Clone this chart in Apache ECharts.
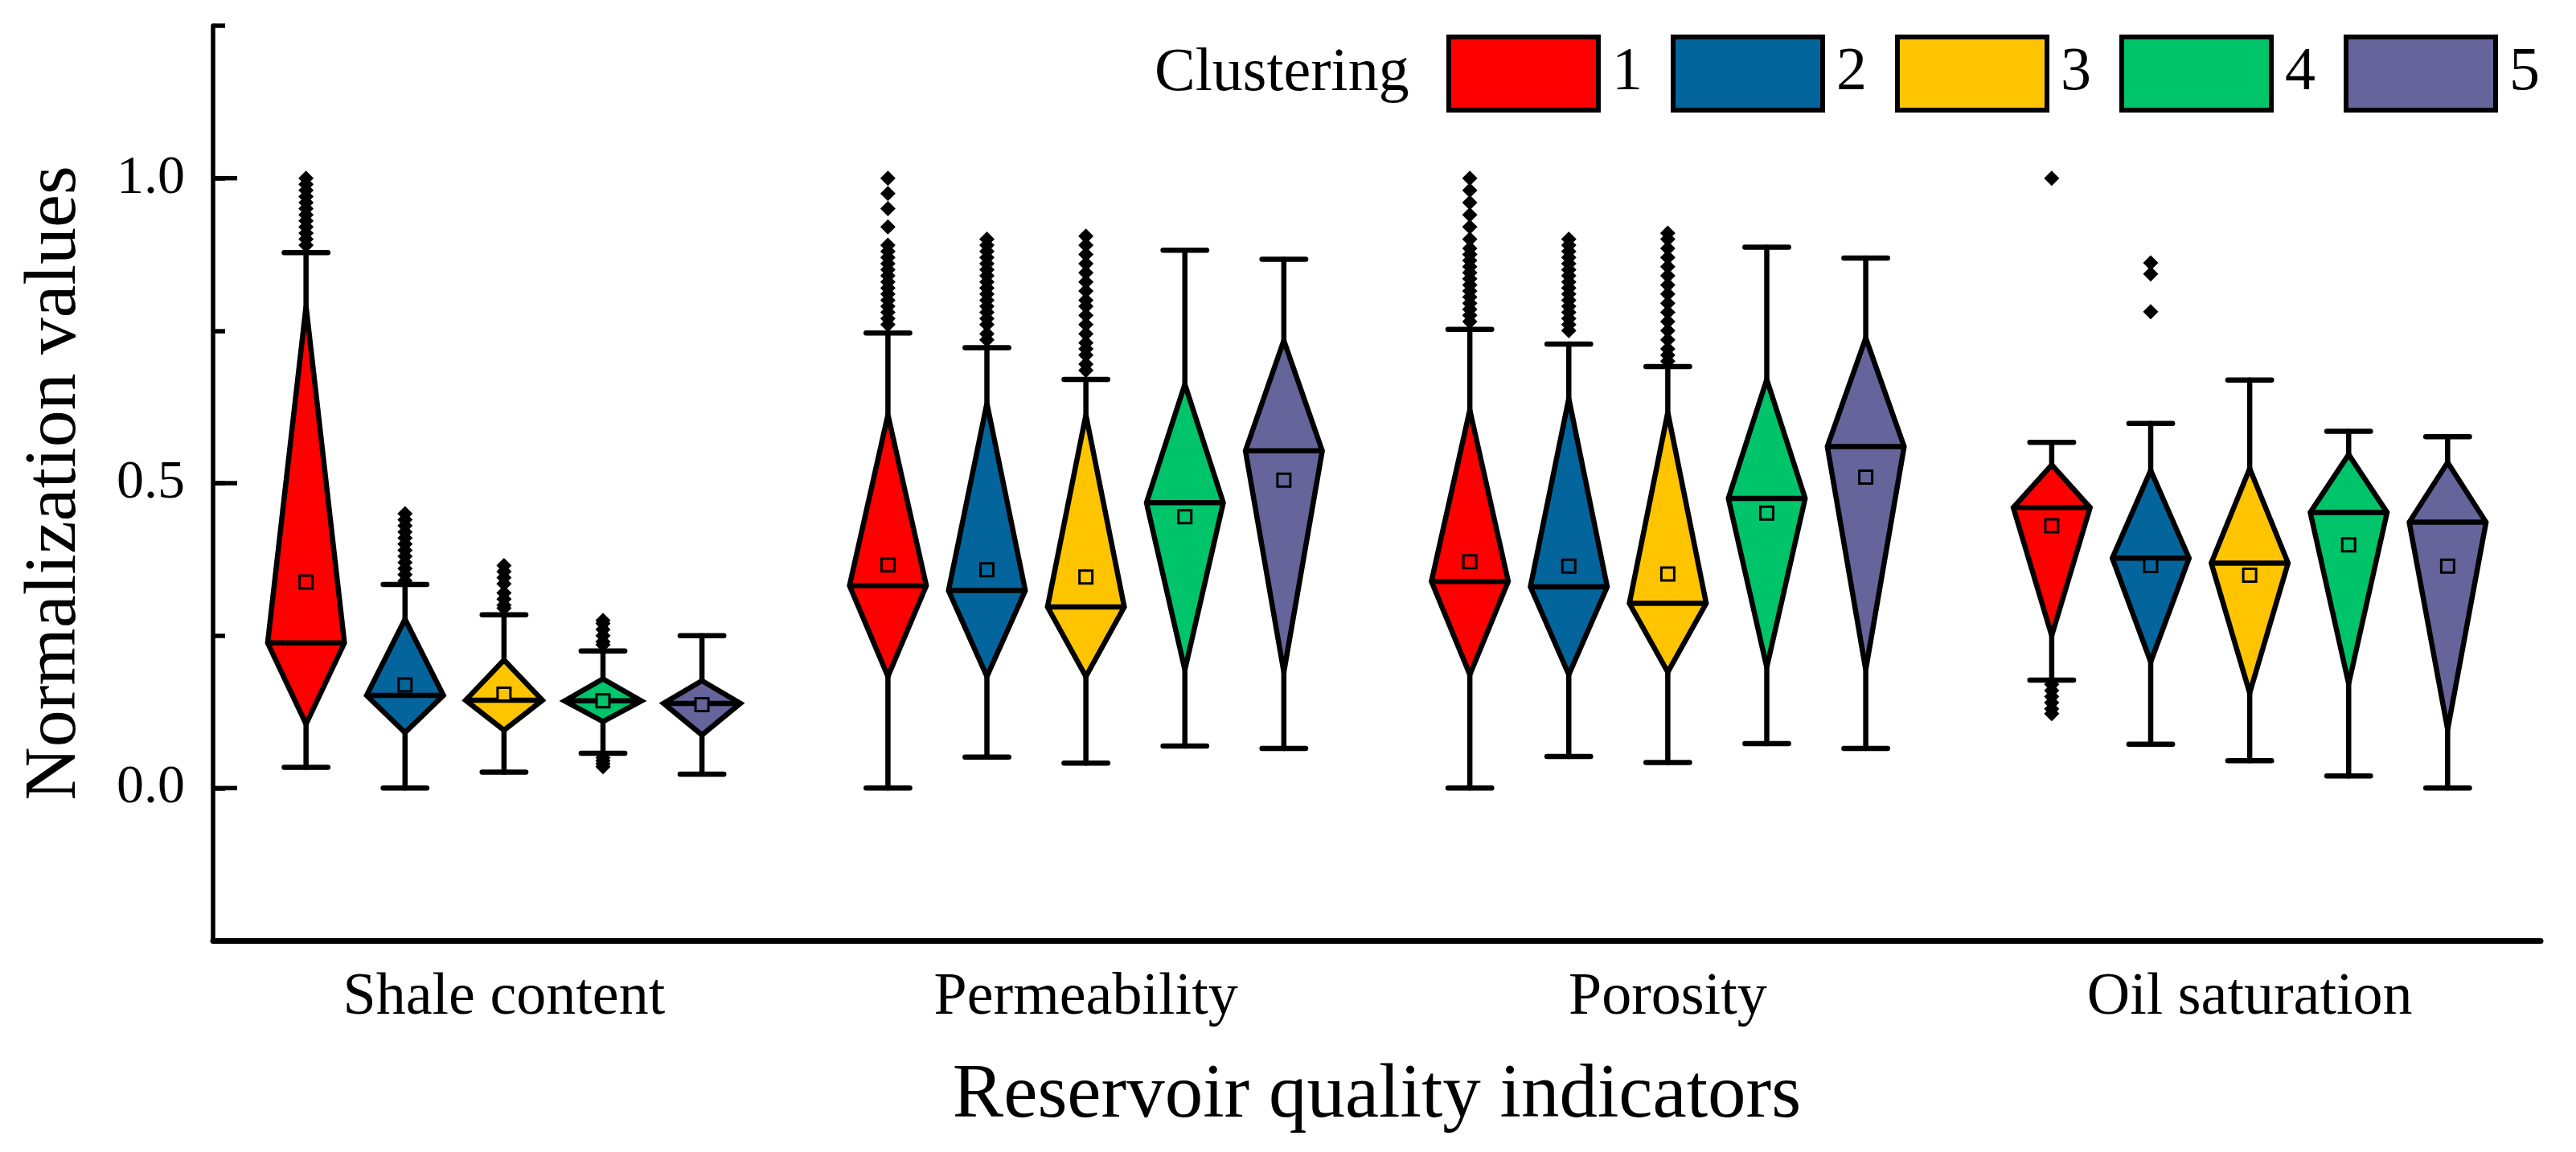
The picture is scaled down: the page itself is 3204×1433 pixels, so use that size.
<!DOCTYPE html>
<html>
<head>
<meta charset="utf-8">
<script src="https://cdn.jsdelivr.net/npm/echarts@6/dist/echarts.min.js"></script>
<style>
html,body{margin:0;padding:0;background:#fff;}
#chart{width:3204px;height:1433px;}
</style>
</head>
<body>
<div id="chart"></div>
<script>
// ---------- data ----------
const categories = ['Shale content', 'Permeability', 'Porosity', 'Oil saturation'];
const clusters = ['1', '2', '3', '4', '5'];
const colors = ['#FF0000', '#03659C', '#FFC400', '#00C46A', '#65659C'];
const yMajorTicks = [0, 0.5, 1.0];

// [cluster][category]
const lowerWhisker = [
  [0.034, 0.000, 0.000, 0.177],
  [0.000, 0.051, 0.052, 0.072],
  [0.026, 0.041, 0.042, 0.045],
  [0.057, 0.069, 0.073, 0.020],
  [0.023, 0.065, 0.065, 0.000]
];
const q1 = [
  [0.105, 0.183, 0.186, 0.250],
  [0.091, 0.183, 0.186, 0.207],
  [0.095, 0.183, 0.190, 0.156],
  [0.109, 0.194, 0.198, 0.171],
  [0.087, 0.190, 0.194, 0.096]
];
const median = [
  [0.238, 0.332, 0.339, 0.460],
  [0.152, 0.324, 0.330, 0.377],
  [0.144, 0.297, 0.303, 0.369],
  [0.143, 0.468, 0.475, 0.452],
  [0.139, 0.553, 0.560, 0.436]
];
const q3 = [
  [0.790, 0.612, 0.620, 0.530],
  [0.277, 0.631, 0.639, 0.521],
  [0.210, 0.612, 0.616, 0.524],
  [0.179, 0.662, 0.670, 0.547],
  [0.176, 0.734, 0.738, 0.534]
];
const upperWhisker = [
  [0.878, 0.746, 0.752, 0.567],
  [0.334, 0.722, 0.728, 0.598],
  [0.284, 0.670, 0.691, 0.669],
  [0.225, 0.882, 0.887, 0.585],
  [0.250, 0.867, 0.869, 0.576]
];
const mean = [
  [0.338, 0.366, 0.371, 0.430],
  [0.169, 0.358, 0.364, 0.365],
  [0.154, 0.346, 0.351, 0.349],
  [0.143, 0.445, 0.451, 0.399],
  [0.137, 0.505, 0.510, 0.364]
];
const outliers = [
  [ // cluster 1
    [0.89, 0.90, 0.91, 0.92, 0.93, 0.94, 0.95, 0.96, 0.97, 0.98, 0.99, 1.00],
    [0.76, 0.77, 0.78, 0.79, 0.80, 0.81, 0.82, 0.83, 0.84, 0.85, 0.86, 0.87, 0.88, 0.89, 0.92, 0.95, 0.975, 1.00],
    [0.765, 0.775, 0.785, 0.795, 0.805, 0.815, 0.825, 0.835, 0.845, 0.855, 0.865, 0.875, 0.885, 0.90, 0.92, 0.94, 0.96, 0.98, 1.00],
    [1.00, 0.170, 0.160, 0.150, 0.140, 0.130, 0.122]
  ],
  [ // cluster 2
    [0.34, 0.35, 0.36, 0.37, 0.38, 0.39, 0.40, 0.41, 0.42, 0.43, 0.44, 0.45],
    [0.735, 0.745, 0.76, 0.77, 0.78, 0.79, 0.80, 0.81, 0.82, 0.83, 0.84, 0.85, 0.86, 0.87, 0.88, 0.89, 0.90],
    [0.75, 0.76, 0.77, 0.78, 0.79, 0.80, 0.81, 0.82, 0.83, 0.84, 0.85, 0.86, 0.87, 0.88, 0.89, 0.90],
    [0.861, 0.843, 0.781]
  ],
  [ // cluster 3
    [0.295, 0.30, 0.31, 0.32, 0.335, 0.345, 0.355, 0.365],
    [0.685, 0.695, 0.71, 0.72, 0.73, 0.745, 0.76, 0.775, 0.79, 0.80, 0.815, 0.83, 0.845, 0.86, 0.875, 0.89, 0.905],
    [0.70, 0.71, 0.72, 0.735, 0.75, 0.765, 0.78, 0.795, 0.81, 0.825, 0.84, 0.855, 0.87, 0.885, 0.90, 0.91],
    []
  ],
  [ // cluster 4
    [0.235, 0.24, 0.25, 0.26, 0.27, 0.275, 0.050, 0.045, 0.040, 0.035],
    [], [], []
  ],
  [ // cluster 5
    [], [], [], []
  ]
];

// ---------- chart ----------
const FONT = '"Liberation Serif", "Times New Roman", serif';
const SPACING = 0.1701;   // fraction of category band between clusters
const HALF_W = 0.066;     // diamond half width, fraction of band
const CAP_W = 0.0375;     // whisker cap half width, fraction of band
const LW = 6.5;

function clusterX(api, ci, s) {
  const band = api.size([1, 0])[0];
  return api.coord([ci, 0])[0] + (s - 2) * band * SPACING;
}

function boxRenderer(s) {
  return function (params, api) {
    const ci = api.value(0);
    const band = api.size([1, 0])[0];
    const cx = clusterX(api, ci, s);
    const y = v => api.coord([ci, v])[1];
    const lw = api.value(1), b1 = api.value(2), md = api.value(3), b3 = api.value(4), uw = api.value(5), mn = api.value(6);
    const hw = band * HALF_W, cw = band * CAP_W;
    const line = { stroke: '#000', lineWidth: LW, lineCap: 'round' };
    return {
      type: 'group',
      children: [
        { type: 'line', shape: { x1: cx, y1: y(b3), x2: cx, y2: y(uw) }, style: line },
        { type: 'line', shape: { x1: cx - cw, y1: y(uw), x2: cx + cw, y2: y(uw) }, style: line },
        { type: 'line', shape: { x1: cx, y1: y(b1), x2: cx, y2: y(lw) }, style: line },
        { type: 'line', shape: { x1: cx - cw, y1: y(lw), x2: cx + cw, y2: y(lw) }, style: line },
        { type: 'polygon', shape: { points: [[cx, y(b3)], [cx + hw, y(md)], [cx, y(b1)], [cx - hw, y(md)]] },
          style: { fill: colors[s], stroke: '#000', lineWidth: LW, lineJoin: 'miter', miterLimit: 4 } },
        { type: 'line', shape: { x1: cx - hw, y1: y(md), x2: cx + hw, y2: y(md) }, style: { stroke: '#000', lineWidth: LW } },
        { type: 'rect', shape: { x: cx - 8, y: y(mn) - 8, width: 16, height: 16 },
          style: { fill: colors[s], stroke: '#000', lineWidth: 3 } }
      ]
    };
  };
}

function outlierRenderer(s) {
  return function (params, api) {
    const ci = api.value(0);
    const cx = clusterX(api, ci, s);
    const cy = api.coord([ci, api.value(1)])[1];
    const r = 9.5;
    return {
      type: 'polygon',
      shape: { points: [[cx, cy - r], [cx + r, cy], [cx, cy + r], [cx - r, cy]] },
      style: { fill: '#000' }
    };
  };
}

const series = [];
clusters.forEach((name, s) => {
  series.push({
    name: name,
    type: 'custom',
    itemStyle: { color: colors[s] },
    renderItem: boxRenderer(s),
    encode: { x: 0, y: [1, 2, 3, 4, 5, 6] },
    data: categories.map((c, i) => [i, lowerWhisker[s][i], q1[s][i], median[s][i], q3[s][i], upperWhisker[s][i], mean[s][i]]),
    z: 2
  });
});
clusters.forEach((name, s) => {
  const pts = [];
  categories.forEach((c, i) => outliers[s][i].forEach(v => pts.push([i, v])));
  series.push({
    name: name + ' outliers',
    type: 'custom',
    itemStyle: { color: '#000' },
    renderItem: outlierRenderer(s),
    encode: { x: 0, y: 1 },
    data: pts,
    z: 3
  });
});

const chart = echarts.init(document.getElementById('chart'), null, { renderer: 'canvas' });
chart.setOption({
  backgroundColor: '#fff',
  animation: false,
  grid: { left: 265, right: 44, top: 32, bottom: 263, containLabel: false },
  legend: {
    data: clusters,
    left: 1799, top: 43,
    orient: 'horizontal',
    padding: 0,
    itemWidth: 186, itemHeight: 91, itemGap: 35,
    icon: 'rect',
    selectedMode: false,
    itemStyle: { borderColor: '#000', borderWidth: 6 },
    textStyle: { fontFamily: FONT, fontSize: 76, color: '#000', padding: [0, 0, 0, 12] }
  },
  xAxis: {
    type: 'category',
    data: categories,
    boundaryGap: true,
    axisLine: { onZero: false, lineStyle: { color: '#000', width: 7 } },
    axisTick: { show: false },
    splitLine: { show: false },
    axisLabel: { fontFamily: FONT, fontSize: 74, color: '#000', margin: 35 },
    name: 'Reservoir quality indicators',
    nameLocation: 'middle',
    nameGap: 147,
    nameTextStyle: { fontFamily: FONT, fontSize: 95, color: '#000' }
  },
  yAxis: {
    type: 'value',
    min: -0.25, max: 1.25, interval: 0.25,
    axisLine: { show: true, onZero: false, lineStyle: { color: '#000', width: 5.5 } },
    axisTick: { show: true, inside: true, length: 15, lineStyle: { color: '#000', width: 5.5 } },
    splitLine: { show: false },
    axisLabel: {
      fontFamily: FONT, fontSize: 68, color: '#000', margin: 35,
      formatter: v => (yMajorTicks.some(t => Math.abs(t - v) < 1e-9) ? v.toFixed(1) : '')
    },
    name: 'Normalization values',
    nameLocation: 'middle',
    nameGap: 150,
    nameRotate: 90,
    nameTextStyle: { fontFamily: FONT, fontSize: 92, color: '#000' }
  },
  series: series
});

// longer inward ticks at the labelled values, placed through the axis scale
function drawMajorTicks() {
  const band = chart.convertToPixel({ xAxisIndex: 0 }, 1) - chart.convertToPixel({ xAxisIndex: 0 }, 0);
  const x0 = chart.convertToPixel({ xAxisIndex: 0 }, 0) - band / 2;
  const els = yMajorTicks.map(v => {
    const y = chart.convertToPixel({ yAxisIndex: 0 }, v);
    return { type: 'line', shape: { x1: x0, y1: y, x2: x0 + 30, y2: y },
      style: { stroke: '#000', lineWidth: 5.5 }, z: 10 };
  });
  els.push({
    type: 'text', left: 1436, top: 54,
    style: { text: 'Clustering', font: '76px ' + FONT, fill: '#000' }
  });
  chart.setOption({ graphic: els });
}
drawMajorTicks();
</script>
</body>
</html>
